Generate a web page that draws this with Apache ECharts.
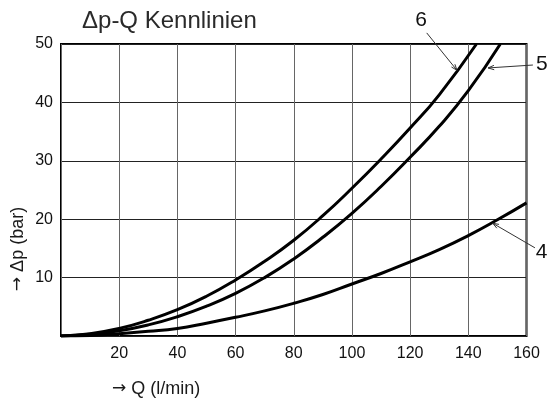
<!DOCTYPE html>
<html><head><meta charset="utf-8">
<script src="https://cdn.jsdelivr.net/npm/echarts@6/dist/echarts.min.js"></script>
<style>html,body{margin:0;padding:0;background:#fff}#c{width:550px;height:400px}</style>
</head><body><div id="c"></div>
<script>
// Curve 6
const q6  = [0, 10, 20, 30, 40, 50, 60, 70, 80, 90, 100, 110, 120, 130, 142.8];
const dp6 = [0, 0.4, 1.3, 2.7, 4.5, 6.8, 9.6, 12.8, 16.4, 20.6, 25.3, 30.3, 35.6, 41.3, 50];
// Curve 5
const q5  = [0, 10, 20, 30, 40, 50, 60, 70, 80, 90, 100, 110, 120, 130, 140, 151];
const dp5 = [0, 0.3, 0.9, 1.9, 3.3, 5.1, 7.3, 10.0, 13.2, 16.9, 21.0, 25.6, 30.6, 35.9, 42.0, 50];
// Curve 4
const q4  = [0, 10, 20, 30, 40, 50, 60, 70, 80, 90, 100, 110, 120, 130, 140, 150, 160];
const dp4 = [0, 0.1, 0.4, 0.8, 1.3, 2.2, 3.2, 4.3, 5.6, 7.1, 8.9, 10.7, 12.7, 14.8, 17.2, 19.9, 22.8];

// Axis ranges / ticks
const xMin = 0, xMax = 160, xStep = 20;
const yMin = 0, yMax = 50, yStep = 10;

// Curve annotations (data units): label position, leader start, leader end (arrow tip)
const annoLabels = ['6', '5', '4'];
const annoText = [[123.8, 54.1], [165.3, 46.5], [165.2, 14.4]];
const annoFrom = [[125.7, 51.9], [162.2, 46.4], [162.9, 15.1]];
const annoTo   = [[136.1, 45.5], [146.8, 45.9], [148.4, 19.3]];

const titleText = 'Δp-Q Kennlinien';
const xName = 'Q (l/min)';
const yName = 'Δp (bar)';
const arrow = '→';

const zip = (a, b) => a.map((v, i) => [v, b[i]]);
const FONT = '"Liberation Sans", Arial, Helvetica, sans-serif';

const chart = echarts.init(document.getElementById('c'), null, {renderer: 'canvas'});

const lineSeries = (data) => ({
  type: 'line', data, smooth: 0.5, showSymbol: false, symbol: 'none',
  lineStyle: {color: '#000', width: 3}, silent: true, z: 3
});

const nameRich = {
  a: {fontFamily: '"DejaVu Sans", sans-serif', fontSize: 17, fill: '#1a1a1a', color: '#1a1a1a'},
  b: {fontFamily: FONT, fontSize: 18, fill: '#1a1a1a', color: '#1a1a1a'}
};

chart.setOption({
  animation: false,
  backgroundColor: '#fff',
  title: {
    text: titleText, left: 82, top: 9, padding: 0,
    textStyle: {fontSize: 24, fontWeight: 'normal', color: '#2a2a2a', fontFamily: FONT}
  },
  grid: {left: 61, right: 23.5, top: 44, bottom: 64, show: true, borderColor: '#000', borderWidth: 2, containLabel: false},
  xAxis: {
    type: 'value', min: xMin, max: xMax, interval: xStep,
    axisLine: {show: false}, axisTick: {show: false},
    axisLabel: {showMinLabel: false, margin: 10, fontSize: 16, color: '#111', fontFamily: FONT},
    splitLine: {show: true, lineStyle: {color: '#666', width: 1}}
  },
  yAxis: {
    type: 'value', min: yMin, max: yMax, interval: yStep,
    axisLine: {show: false}, axisTick: {show: false},
    axisLabel: {showMinLabel: false, margin: 8, fontSize: 16, color: '#111', fontFamily: FONT},
    splitLine: {show: true, lineStyle: {color: '#222', width: 1}}
  },
  graphic: [
    {type: 'text', left: 112, top: 380,
     style: {text: '{a|' + arrow + '}{b| ' + xName + '}', rich: nameRich}},
    {type: 'text', x: 18, y: 249, rotation: Math.PI / 2,
     style: {text: '{a|' + arrow + '}{b| ' + yName + '}', rich: nameRich, align: 'center', verticalAlign: 'middle'}}
  ],
  series: [
    lineSeries(zip(q6, dp6)),
    lineSeries(zip(q5, dp5)),
    lineSeries(zip(q4, dp4)),
    {
      type: 'custom', silent: true, z: 5, clip: false,
      encode: {x: 0, y: 1},
      data: annoLabels.map((_, i) => [annoText[i][0], annoText[i][1], annoFrom[i][0], annoFrom[i][1], annoTo[i][0], annoTo[i][1]]),
      renderItem: function (params, api) {
        const i = params.dataIndex;
        const t = api.coord([api.value(0), api.value(1)]);
        const f = api.coord([api.value(2), api.value(3)]);
        const e = api.coord([api.value(4), api.value(5)]);
        const ang = Math.atan2(e[1] - f[1], e[0] - f[0]);
        const L = 6, W = 2.2;
        const bx = e[0] - L * Math.cos(ang), by = e[1] - L * Math.sin(ang);
        const px = -Math.sin(ang) * W, py = Math.cos(ang) * W;
        return {
          type: 'group', children: [
            {type: 'line', shape: {x1: f[0], y1: f[1], x2: e[0], y2: e[1]}, style: {stroke: '#333', lineWidth: 1}},
            {type: 'polyline', shape: {points: [[bx + px, by + py], [e[0], e[1]], [bx - px, by - py]]}, style: {stroke: '#333', lineWidth: 1, fill: null}},
            {type: 'text', x: t[0], y: t[1], style: {text: annoLabels[i], font: '21px ' + FONT, fill: '#111', align: 'center', verticalAlign: 'middle'}}
          ]
        };
      }
    }
  ]
});
</script>
</body></html>
